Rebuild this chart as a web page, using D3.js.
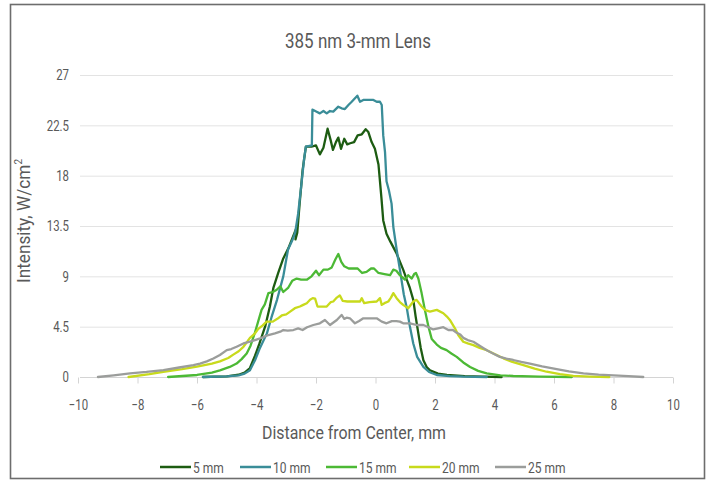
<!DOCTYPE html>
<html>
<head>
<meta charset="utf-8">
<script src="https://cdn.jsdelivr.net/npm/d3@7"></script>
<style>
  html, body { margin: 0; padding: 0; background: #fff; }
  svg { display: block; }
  text { font-family: Roboto, "Noto Sans", "DejaVu Sans", sans-serif; fill: #595959; }
</style>
</head>
<body>
<svg id="chart" width="714" height="483"></svg>
<script>
// Beam profile: intensity vs. distance from center for five working distances
const chartTitle = "385 nm 3-mm Lens";
const xTitle = "Distance from Center, mm";
const seriesNames = ["5 mm", "10 mm", "15 mm", "20 mm", "25 mm"];
const seriesColors = ["#1d5c12", "#3a8d98", "#4cb935", "#c8da1c", "#9b9d9b"];
const xTicks = [-10, -8, -6, -4, -2, 0, 2, 4, 6, 8, 10];
const yTicks = [0, 4.5, 9, 13.5, 18, 22.5, 27];

// 5 mm
const x5 = [-5.8, -5.0, -4.6, -4.4, -4.22, -4.05, -3.9, -3.7, -3.55, -3.43, -3.27, -3.1, -2.93, -2.81, -2.72, -2.66, -2.69, -2.63, -2.55, -2.45, -2.34,
  -2.15, -2.0, -1.87, -1.75, -1.61, -1.51, -1.43, -1.33, -1.25, -1.16, -1.05, -0.95, -0.85, -0.72, -0.6, -0.46, -0.33, -0.24, -0.13, -0.02,
  0.1, 0.2, 0.26, 0.37, 0.5, 0.7, 0.93, 1.05, 1.15, 1.27, 1.35, 1.44, 1.52, 1.61, 1.72, 1.83, 2.1, 2.4, 3.0, 3.6, 4.24];
const y5 = [0, 0.05, 0.2, 0.4, 0.8, 1.9, 3.0, 4.6, 6.3, 8.0, 9.3, 10.6, 11.5, 12.3, 12.9, 13.3, 12.3, 12.9, 15.5, 18.5, 20.6,
  20.6, 20.7, 19.9, 20.5, 22.2, 21.2, 20.3, 21.0, 21.4, 20.4, 21.3, 20.8, 20.9, 21.0, 21.6, 21.7, 22.15, 21.9, 21.0, 20.4,
  19.0, 16.0, 14.0, 12.8, 12.1, 11.1, 9.6, 8.7, 8.0, 6.9, 5.4, 3.9, 2.6, 1.5, 0.9, 0.6, 0.3, 0.18, 0.08, 0.03, 0];

// 10 mm
const x10 = [-5.8, -5.0, -4.6, -4.4, -4.22, -4.05, -3.9, -3.65, -3.5, -3.31, -3.1, -2.94, -2.8, -2.7, -2.6, -2.5, -2.4, -2.34, -2.14, -2.12,
  -2.09, -1.98, -1.87, -1.75, -1.64, -1.53, -1.42, -1.25, -1.14, -1.03, -0.91, -0.8, -0.69, -0.61, -0.52, -0.41, -0.3, -0.07, 0.04, 0.15, 0.21,
  0.26, 0.32, 0.37, 0.45, 0.54, 0.6, 0.71, 0.82, 0.95, 1.05, 1.15, 1.27, 1.4, 1.61, 1.8, 2.06, 2.5, 2.95, 3.74];
const y10 = [0, 0.05, 0.15, 0.3, 0.6, 1.5, 2.5, 3.9, 5.3, 6.9, 9.0, 11.4, 12.2, 12.9, 14.6, 17.0, 19.5, 20.6, 20.7, 23.9,
  23.87, 23.72, 23.57, 23.78, 23.57, 23.78, 23.72, 24.17, 24.02, 23.96, 24.32, 24.61, 24.92, 25.15, 24.61, 24.77, 24.77, 24.77, 24.61, 24.61, 24.32,
  21.6, 20.1, 17.5, 16.7, 15.5, 13.4, 11.4, 9.6, 7.4, 6.2, 4.6, 3.0, 1.8, 0.9, 0.45, 0.18, 0.08, 0.03, 0];

// 15 mm
const x15 = [-6.97, -6.0, -5.5, -5.23, -4.9, -4.67, -4.5, -4.33, -4.2, -4.05, -3.95, -3.83, -3.72, -3.6, -3.45, -3.32, -3.2, -3.1, -2.93, -2.8, -2.65,
  -2.5, -2.31, -2.15, -2.0, -1.9, -1.75, -1.6, -1.47, -1.35, -1.25, -1.15, -1.05, -0.9, -0.75, -0.6, -0.45, -0.3, -0.15, -0.05, 0.1, 0.3, 0.49,
  0.6, 0.7, 0.82, 0.99, 1.1, 1.22, 1.3, 1.36, 1.44, 1.55, 1.66, 1.78, 1.89, 2.06, 2.2, 2.39, 2.55, 2.73, 2.95, 3.18, 3.45, 3.74, 4.2, 4.63, 5.5, 6.6];
const y15 = [0, 0.18, 0.4, 0.6, 0.9, 1.2, 1.6, 2.1, 2.8, 4.0, 4.9, 6.0, 6.5, 7.5, 7.6, 7.8, 8.1, 7.6, 8.0, 8.6, 8.8,
  8.7, 8.7, 9.0, 9.5, 9.1, 9.6, 9.6, 9.8, 10.5, 11.0, 10.3, 9.9, 9.7, 9.7, 9.7, 9.3, 9.4, 9.7, 9.7, 9.3, 9.2, 9.1,
  9.6, 9.5, 9.1, 8.7, 9.1, 8.8, 9.2, 9.3, 8.8, 7.5, 6.0, 4.5, 3.4, 2.9, 2.6, 2.4, 2.1, 1.8, 1.3, 0.9, 0.55, 0.33, 0.15, 0.09, 0.04, 0];

// 20 mm
const x20 = [-8.3, -7.6, -7.13, -6.5, -6.0, -5.5, -5.23, -4.95, -4.78, -4.6, -4.44, -4.3, -4.22, -4.05, -3.94, -3.8, -3.66, -3.45, -3.3, -3.15, -3.0,
  -2.87, -2.71, -2.54, -2.43, -2.31, -2.2, -2.11, -2.03, -1.95, -1.8, -1.64, -1.5, -1.42, -1.3, -1.2, -1.1, -0.95, -0.8, -0.65, -0.52, -0.46, -0.38,
  -0.2, 0.04, 0.15, 0.21, 0.3, 0.43, 0.52, 0.6, 0.71, 0.82, 0.93, 1.1, 1.27, 1.38, 1.55, 1.66, 1.83, 2.06, 2.28, 2.4, 2.5, 2.67, 2.78, 2.95,
  3.1, 3.29, 3.5, 3.74, 4.0, 4.3, 4.6, 4.97, 5.35, 5.75, 6.2, 6.65, 7.2, 7.86];
const y20 = [0, 0.25, 0.47, 0.7, 0.92, 1.2, 1.4, 1.7, 2.0, 2.3, 2.7, 3.2, 3.5, 3.9, 4.3, 4.6, 4.95, 4.95, 5.2, 5.5, 5.6,
  5.85, 6.15, 6.3, 6.45, 6.6, 6.9, 7.05, 7.0, 6.3, 6.3, 6.3, 6.7, 6.75, 7.1, 7.3, 6.8, 6.75, 6.75, 6.75, 6.75, 7.05, 6.6,
  6.7, 6.75, 7.05, 6.45, 6.6, 6.75, 7.1, 7.5, 7.05, 6.7, 6.45, 6.15, 6.75, 6.9, 6.3, 6.0, 5.85, 6.0, 5.7, 5.4, 5.1, 4.35, 3.75, 3.15,
  3.0, 2.85, 2.6, 2.4, 2.05, 1.67, 1.35, 1.07, 0.75, 0.47, 0.25, 0.1, 0.04, 0];

// 25 mm
const x25 = [-9.33, -8.8, -8.25, -7.7, -7.13, -6.6, -6.12, -5.9, -5.67, -5.45, -5.23, -5.0, -4.85, -4.67, -4.44, -4.22, -4.05, -3.88, -3.6, -3.38, -3.2,
  -3.1, -2.95, -2.76, -2.6, -2.45, -2.3, -2.09, -1.87, -1.7, -1.53, -1.3, -1.14, -1.05, -0.97, -0.86, -0.69, -0.55, -0.41, -0.2, 0.04, 0.21, 0.37,
  0.55, 0.7, 0.82, 0.93, 1.16, 1.38, 1.61, 1.78, 1.94, 2.1, 2.28, 2.45, 2.6, 2.73, 2.85, 2.95, 3.1, 3.29, 3.5, 3.74, 3.95, 4.18, 4.4, 4.63,
  4.9, 5.19, 5.6, 6.09, 6.5, 6.99, 7.5, 8.0, 8.5, 9.0];
const y25 = [0, 0.15, 0.33, 0.45, 0.62, 0.85, 1.07, 1.2, 1.4, 1.65, 1.97, 2.4, 2.5, 2.7, 3.0, 3.16, 3.3, 3.45, 3.75, 3.9, 4.05,
  4.2, 4.15, 4.2, 4.35, 4.2, 4.45, 4.65, 4.8, 5.1, 4.65, 5.1, 5.55, 5.2, 5.3, 5.25, 4.8, 5.0, 5.25, 5.25, 5.25, 4.95, 4.8,
  5.0, 5.0, 4.95, 4.8, 4.8, 4.65, 4.65, 4.45, 4.25, 4.35, 4.45, 4.2, 4.2, 3.95, 3.8, 3.5, 3.3, 3.15, 2.8, 2.4, 2.1, 1.8, 1.65, 1.52,
  1.35, 1.2, 0.95, 0.7, 0.5, 0.33, 0.22, 0.15, 0.07, 0];

const seriesX = [x5, x10, x15, x20, x25];
const seriesY = [y5, y10, y15, y20, y25];

const svg = d3.select("#chart");

// compress glyphs horizontally for a narrow, condensed look
function condense(sel, ratio) {
  sel.each(function () {
    const w = this.getComputedTextLength();
    d3.select(this).attr("textLength", w * ratio).attr("lengthAdjust", "spacingAndGlyphs");
  });
}
function fitWidth(sel, width) {
  sel.attr("textLength", width).attr("lengthAdjust", "spacingAndGlyphs");
}

// outer frame
svg.append("rect")
  .attr("x", 10.5).attr("y", 4.5).attr("width", 694).attr("height", 474)
  .attr("fill", "none").attr("stroke", "#6d6d6d").attr("stroke-width", 1.6);

const x = d3.scaleLinear().domain([-10, 10]).range([78, 673]);
const y = d3.scaleLinear().domain([0, 27]).range([377, 75]);

// horizontal gridlines
svg.append("g").selectAll("line").data(yTicks).join("line")
  .attr("x1", 80).attr("x2", 673)
  .attr("y1", d => y(d) + 0.5).attr("y2", d => y(d) + 0.5)
  .attr("stroke", d => d === 0 ? "#d4d4d4" : "#e3e3e3").attr("stroke-width", 1);

// y axis labels
const yAxis = svg.append("g").attr("transform", "translate(69,0)")
  .call(d3.axisLeft(y).tickValues(yTicks).tickSize(0).tickPadding(0).tickFormat(d3.format("~g")));
yAxis.select(".domain").remove();
yAxis.selectAll("text").attr("font-size", 15).attr("fill", "#595959")
  .attr("font-family", "Roboto, sans-serif").call(condense, 0.76);

// x axis with small ticks below the baseline
const xAxis = svg.append("g").attr("transform", `translate(0,${y(0) + 0.5})`)
  .call(d3.axisBottom(x).tickValues(xTicks).tickSize(6).tickPadding(16).tickFormat(d3.format("~g")));
xAxis.select(".domain").remove();
xAxis.selectAll("line").attr("stroke", "#d4d4d4");
xAxis.selectAll("text").attr("font-size", 15).attr("fill", "#595959")
  .attr("font-family", "Roboto, sans-serif").call(condense, 0.76);

// profile lines
const line = d3.line().x(d => x(d[0])).y(d => y(d[1]));
seriesNames.forEach((name, i) => {
  const pts = seriesX[i].map((v, j) => [v, seriesY[i][j]]);
  svg.append("path").datum(pts)
    .attr("fill", "none").attr("stroke", seriesColors[i])
    .attr("stroke-width", 2.3).attr("stroke-linejoin", "round").attr("stroke-linecap", "round")
    .attr("d", line);
});

// titles
svg.append("text").attr("x", 358).attr("y", 48).attr("text-anchor", "middle")
  .attr("font-size", 20).text(chartTitle).call(fitWidth, 146);
svg.append("text").attr("x", 354).attr("y", 439).attr("text-anchor", "middle")
  .attr("font-size", 19).text(xTitle).call(fitWidth, 184);

const yt = svg.append("text").attr("transform", "translate(30,221) rotate(-90)")
  .attr("text-anchor", "middle").attr("font-size", 19);
yt.append("tspan").text("Intensity, W/cm");
yt.append("tspan").attr("font-size", 11).attr("dy", -8).text("2");
yt.call(fitWidth, 124);

// legend
const legendX = [160, 240, 326, 409, 495];
const lg = svg.append("g");
seriesNames.forEach((name, i) => {
  const g = lg.append("g").attr("transform", `translate(${legendX[i]},467)`);
  g.append("line").attr("x1", 0).attr("x2", 31).attr("y1", 0).attr("y2", 0)
    .attr("stroke", seriesColors[i]).attr("stroke-width", 2.5);
  g.append("text").attr("x", 33).attr("y", 5.5).attr("font-size", 15)
    .text(name).call(condense, 0.8);
});
</script>
</body>
</html>
